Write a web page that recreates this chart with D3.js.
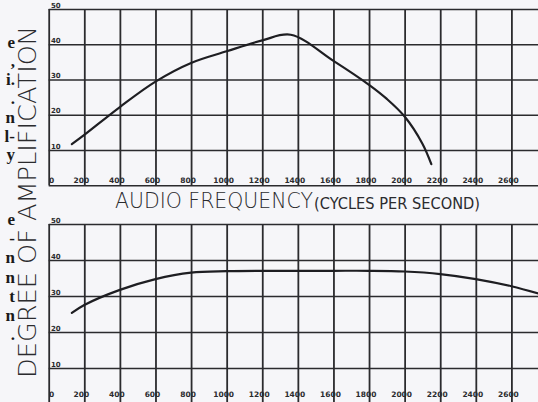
<!DOCTYPE html>
<html>
<head>
<meta charset="utf-8">
<script src="https://cdn.jsdelivr.net/npm/d3@7"></script>
<style>
  html, body { margin: 0; padding: 0; background: #f6f6f9; }
  svg { display: block; }
</style>
</head>
<body>
<svg id="chart" width="538" height="402"></svg>
<script>
// Frequency grid (cycles per second) shared by both panels
const freqTicks = [0, 200, 400, 600, 800, 1000, 1200, 1400, 1600, 1800, 2000, 2200, 2400, 2600];
const freqGrid = [0, 200, 400, 600, 800, 1000, 1200, 1400, 1600, 1800, 2000, 2200, 2400, 2600, 2800];
const ampTicks = [10, 20, 30, 40, 50];

// Upper panel: amplification vs. audio frequency
const freqUpper = [130, 200, 400, 600, 800, 1000, 1200, 1360, 1600, 1800, 1900, 2000, 2100, 2150];
const ampUpper  = [11.7, 14.3, 22.2, 29.4, 34.7, 38.0, 41.1, 42.7, 35.3, 28.5, 24.5, 19.5, 11.8, 6.0];

// Lower panel: amplification vs. audio frequency
const freqLower = [130, 200, 400, 600, 800, 1000, 1200, 1400, 1600, 1800, 2000, 2200, 2400, 2600, 2800];
const ampLower  = [25.3, 27.5, 31.7, 34.7, 36.5, 36.9, 37.0, 37.0, 37.0, 37.0, 36.8, 36.1, 34.7, 32.7, 30.0];

// Fragments of the neighbouring text column
const columnUpper = ["e", ",", "i.", ".", "n", "l-", "y"];
const columnLower = ["e", "-", "n", "n", "t", "n", "."];

const svg = d3.select("#chart");
const ink = "#2b2b2e";

const x = d3.scaleLinear().domain([0, 2800]).range([48.7, 547]);
const yUpper = d3.scaleLinear().domain([0, 50]).range([185.3, 9]);
const yLower = d3.scaleLinear().domain([0, 50]).range([404, 224]);

function panel(y, freqs, amps, labelBase) {
  const g = svg.append("g");
  const [y0, y1] = y.range();

  // vertical grid
  const vx = d3.axisBottom(x).tickValues(freqGrid).tickSize(-(y0 - y1)).tickFormat("");
  g.append("g").attr("transform", `translate(0,${y0})`).call(vx)
    .call(s => s.select(".domain").remove())
    .call(s => s.selectAll("line").attr("stroke", ink).attr("stroke-width", 1.8));

  // horizontal grid
  const hy = d3.axisLeft(y).tickValues([0, ...ampTicks]).tickSize(-(538 - 48.7)).tickFormat("");
  g.append("g").attr("transform", `translate(48.7,0)`).call(hy)
    .call(s => s.select(".domain").remove())
    .call(s => s.selectAll("line").attr("stroke", ink).attr("stroke-width", 1.6));

  // amplification labels just above each horizontal rule
  g.append("g").selectAll("text").data(ampTicks).join("text")
    .attr("x", 51).attr("y", d => y(d) - 1.5)
    .attr("font-family", "DejaVu Sans, sans-serif").attr("font-size", 7)
    .attr("font-weight", "bold").attr("fill", ink)
    .text(d => d);

  // frequency labels along the bottom rule
  g.append("g").selectAll("text").data(freqTicks).join("text")
    .attr("x", d => d === 0 ? x(d) + 3 : x(d) - 3).attr("y", labelBase)
    .attr("text-anchor", "middle")
    .attr("font-family", "DejaVu Sans, sans-serif").attr("font-size", 7.5)
    .attr("font-weight", "bold").attr("fill", ink)
    .text(d => d);

  // response curve
  const line = d3.line().x(d => x(d[0])).y(d => y(d[1])).curve(d3.curveCatmullRom.alpha(0.5));
  g.append("path").datum(freqs.map((f, i) => [f, amps[i]]))
    .attr("d", line).attr("fill", "none")
    .attr("stroke", "#1e1e22").attr("stroke-width", 2.2).attr("stroke-linecap", "round");
}

panel(yUpper, freqUpper, ampUpper, 183);
panel(yLower, freqLower, ampLower, 397);

// Axis titles
svg.append("text")
  .attr("x", 115).attr("y", 208)
  .attr("font-family", "DejaVu Sans, sans-serif").attr("font-size", 21).attr("font-weight", 300)
  .attr("fill", ink).attr("textLength", 198).attr("lengthAdjust", "spacingAndGlyphs")
  .text("AUDIO FREQUENCY");
svg.append("text")
  .attr("x", 314).attr("y", 209)
  .attr("font-family", "DejaVu Sans, sans-serif").attr("font-size", 15)
  .attr("fill", ink).attr("textLength", 166).attr("lengthAdjust", "spacingAndGlyphs")
  .text("(CYCLES PER SECOND)");

svg.append("text")
  .attr("transform", "translate(36,378) rotate(-90)")
  .attr("font-family", "DejaVu Sans, sans-serif").attr("font-size", 25).attr("font-weight", 300)
  .attr("fill", ink).attr("textLength", 352).attr("lengthAdjust", "spacingAndGlyphs")
  .text("DEGREE OF AMPLIFICATION");

// Neighbouring column text
const colFont = "Liberation Serif, DejaVu Serif, serif";
svg.append("g").selectAll("text").data(columnUpper).join("text")
  .attr("x", 15).attr("y", (d, i) => 48 + i * 18.7)
  .attr("text-anchor", "end").attr("font-family", colFont)
  .attr("font-size", 17).attr("font-weight", "bold").attr("fill", "#1a1a1a")
  .text(d => d);
svg.append("g").selectAll("text").data(columnLower).join("text")
  .attr("x", 15).attr("y", (d, i) => 225 + i * 19.2)
  .attr("text-anchor", "end").attr("font-family", colFont)
  .attr("font-size", 17).attr("font-weight", "bold").attr("fill", "#1a1a1a")
  .text(d => d);
</script>
</body>
</html>
